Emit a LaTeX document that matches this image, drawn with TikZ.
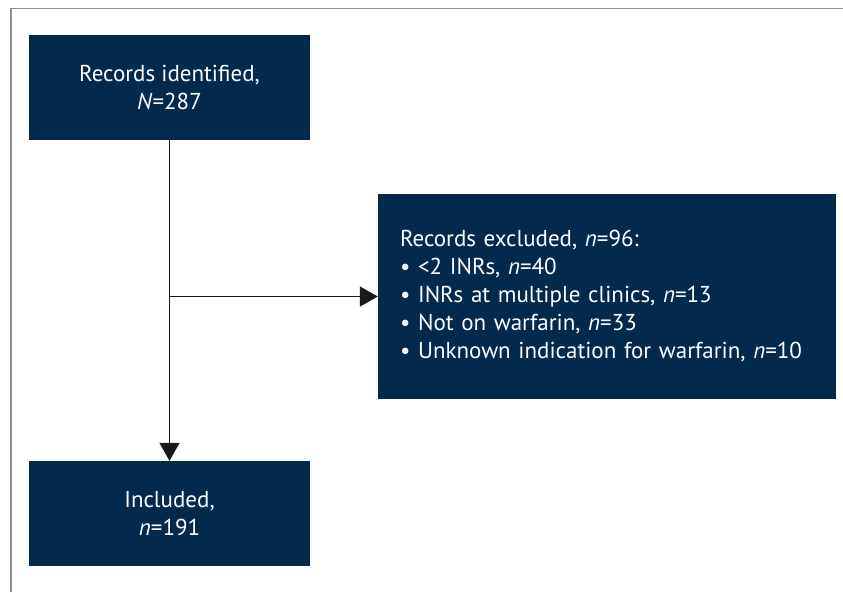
\documentclass[tikz,border=0pt]{standalone}
\usepackage{fontspec}
\setmainfont{PT Sans}
\usepackage{xcolor}
\usetikzlibrary{arrows.meta}

\definecolor{navy}{RGB}{3,41,76}

\tikzset{
  flowbox/.style={fill=navy, text=white, align=center, inner sep=0pt,
    font=\fontsize{23}{28}\selectfont},
  flowarrow/.style={line width=1.6pt, draw=black!90, -{Triangle[length=18pt, width=20pt]}}
}

\begin{document}
\begin{tikzpicture}[x=1pt, y=-1pt]

% Canvas and frame
\useasboundingbox (0, 0) rectangle (843, 592);
\draw[black!45, line width=1.4pt] (11, 592) -- (11, 8.5) -- (843, 8.5);

% Boxes
\node[flowbox, minimum width=281pt, minimum height=105pt] (identified) at (169.5, 87.5)
  {Records identified,\\ \textit{N}=287};
\node[flowbox, minimum width=281pt, minimum height=105pt] (included) at (169.5, 513.5)
  {Included,\\ \textit{n}=191};
\node[flowbox, minimum width=458pt, minimum height=205pt, align=left,
  text width=414pt] (excluded) at (607, 296.5)
  {Records excluded, \textit{n}=96:\\
   \textbullet\ <2 INRs, \textit{n}=40\\
   \textbullet\ INRs at multiple clinics, \textit{n}=13\\
   \textbullet\ Not on warfarin, \textit{n}=33\\
   \textbullet\ Unknown indication for warfarin, \textit{n}=10};

% Connectors
\coordinate (split) at (identified.south |- excluded.west);
\draw[flowarrow] (identified.south) -- (included.north);
\draw[flowarrow] (split) -- (excluded.west);

\end{tikzpicture}
\end{document}
